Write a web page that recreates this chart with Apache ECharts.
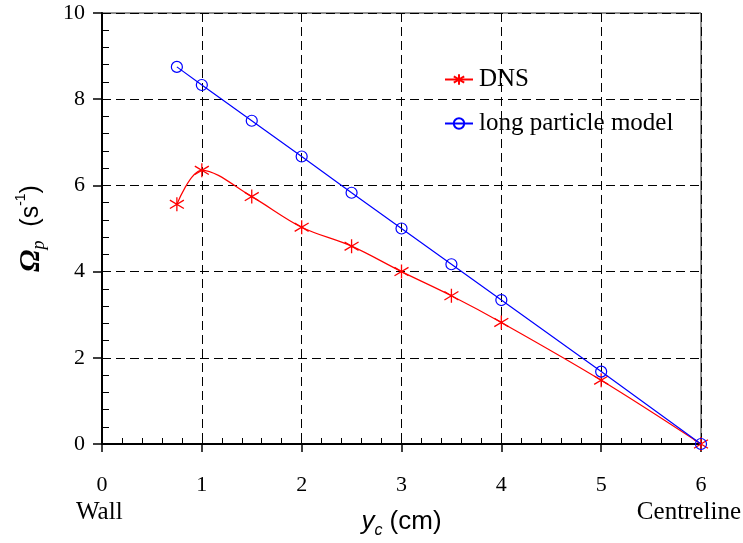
<!DOCTYPE html>
<html>
<head>
<meta charset="utf-8">
<script src="https://cdn.jsdelivr.net/npm/echarts@6/dist/echarts.min.js"></script>
<style>
  html, body { margin: 0; padding: 0; background: #fff; }
  #chart { width: 743px; height: 543px; }
</style>
</head>
<body>
<div id="chart"></div>
<script>
// Particle position across the channel half-width (cm)
const positions = [0.75, 1, 1.5, 2, 2.5, 3, 3.5, 4, 5, 6];
// Particle rotation rate from the direct numerical simulation (1/s)
const dnsValues = [5.56, 6.35, 5.74, 5.03, 4.59, 4.0, 3.44, 2.82, 1.48, 0];
// Rotation rate predicted by the long particle model (1/s)
const modelValues = [8.75, 8.33, 7.5, 6.67, 5.83, 5.0, 4.17, 3.34, 1.68, 0];
// Axis ticks
const xTicks = [0, 1, 2, 3, 4, 5, 6];
const yTicks = [0, 2, 4, 6, 8, 10];

const serif = '"Liberation Serif", "Times New Roman", serif';
const sans = '"Liberation Sans", Arial, sans-serif';
const asterisk = 'path://M0,-1L0,1M-0.8,-0.6L0.8,0.6M-0.8,0.6L0.8,-0.6';

const chart = echarts.init(document.getElementById('chart'), null, { renderer: 'canvas' });

const pairs = (ys) => positions.map((x, i) => [x, ys[i]]);

const dashed = { show: true, lineStyle: { color: '#000', width: 1, type: [9, 5] } };

chart.setOption({
  animation: false,
  backgroundColor: '#fff',
  grid: {
    left: 102, right: 42, top: 13, bottom: 99,
    outerBoundsMode: 'none', containLabel: false,
    show: true, borderColor: '#222', borderWidth: 1, backgroundColor: 'transparent'
  },
  legend: {
    orient: 'vertical',
    left: 439, top: 62,
    itemWidth: 28, itemHeight: 13, itemGap: 19,
    data: ['DNS', 'long particle model'],
    textStyle: { fontFamily: serif, fontSize: 25, color: '#000', padding: [0, 0, 0, 1] }
  },
  xAxis: [
    {
      type: 'value', min: xTicks[0], max: xTicks[xTicks.length - 1], interval: 1,
      position: 'bottom',
      axisLine: { show: true, onZero: false, lineStyle: { color: '#000', width: 2 } },
      axisTick: { show: true, inside: false, length: 8, lineStyle: { color: '#000', width: 1.5 } },
      axisLabel: { fontFamily: serif, fontSize: 22, color: '#000', margin: 30 },
      splitLine: dashed,
      name: '{y|y}{c|c}{t| (cm)}',
      nameLocation: 'middle', nameGap: 61,
      nameTextStyle: {
        rich: {
          y: { fontFamily: sans, fontStyle: 'italic', fontSize: 26, color: '#000', lineHeight: 34, verticalAlign: 'middle' },
          c: { fontFamily: sans, fontStyle: 'italic', fontSize: 16, color: '#000', lineHeight: 22, verticalAlign: 'bottom' },
          t: { fontFamily: sans, fontSize: 26, color: '#000', lineHeight: 34, verticalAlign: 'middle' }
        }
      }
    },
    {
      type: 'value', min: xTicks[0], max: xTicks[xTicks.length - 1], interval: 1,
      position: 'bottom',
      axisLine: { show: false, onZero: false },
      axisTick: { show: true, inside: true, length: 6, lineStyle: { color: '#000', width: 1 } },
      minorTick: { show: true, splitNumber: 5, length: 6, lineStyle: { color: '#000', width: 1 } },
      axisLabel: { show: false },
      splitLine: { show: false }
    }
  ],
  yAxis: [
    {
      type: 'value', min: yTicks[0], max: yTicks[yTicks.length - 1], interval: 2,
      position: 'left',
      axisLine: { show: true, onZero: false, lineStyle: { color: '#000', width: 2 } },
      axisTick: { show: true, inside: false, length: 9, lineStyle: { color: '#000', width: 1.5 } },
      axisLabel: { fontFamily: serif, fontSize: 22, color: '#000', margin: 17 },
      splitLine: dashed,
      name: '{o|Ω}{p|p}{t|  (s}{s|-1}{t|)}',
      nameLocation: 'middle', nameGap: 54, nameRotate: 90,
      nameTextStyle: {
        rich: {
          o: { fontFamily: serif, fontStyle: 'italic', fontWeight: 'bold', fontSize: 30, color: '#000', lineHeight: 34, verticalAlign: 'middle' },
          p: { fontFamily: serif, fontStyle: 'italic', fontSize: 18, color: '#000', lineHeight: 22, verticalAlign: 'bottom' },
          t: { fontFamily: sans, fontSize: 25, color: '#000', lineHeight: 34, verticalAlign: 'middle' },
          s: { fontFamily: sans, fontSize: 14, color: '#000', lineHeight: 26, verticalAlign: 'top' }
        }
      }
    },
    {
      type: 'value', min: yTicks[0], max: yTicks[yTicks.length - 1], interval: 2,
      position: 'left',
      axisLine: { show: false, onZero: false },
      axisTick: { show: true, inside: true, length: 8, lineStyle: { color: '#000', width: 1 } },
      minorTick: { show: true, splitNumber: 5, length: 7, lineStyle: { color: '#000', width: 1 } },
      axisLabel: { show: false },
      splitLine: { show: false }
    }
  ],
  graphic: [
    {
      type: 'text', left: 76, top: 500,
      style: { text: 'Wall', fontFamily: serif, fontSize: 25, fill: '#000' }
    },
    {
      type: 'text', right: 2, top: 500,
      style: { text: 'Centreline', fontFamily: serif, fontSize: 25, fill: '#000' }
    }
  ],
  series: [
    {
      name: 'DNS', type: 'line', data: pairs(dnsValues),
      smooth: 0.35,
      symbol: asterisk, symbolSize: 14,
      lineStyle: { color: '#ff0000', width: 1.2 },
      itemStyle: { color: '#ff0000', borderColor: '#ff0000', borderWidth: 1.3 },
      z: 3
    },
    {
      name: 'long particle model', type: 'line', data: pairs(modelValues),
      symbol: 'circle', symbolSize: 11,
      lineStyle: { color: '#0000ff', width: 1.2 },
      itemStyle: { color: 'rgba(0,0,0,0)', borderColor: '#0000ff', borderWidth: 1.2 },
      z: 4
    }
  ]
});
</script>
</body>
</html>
